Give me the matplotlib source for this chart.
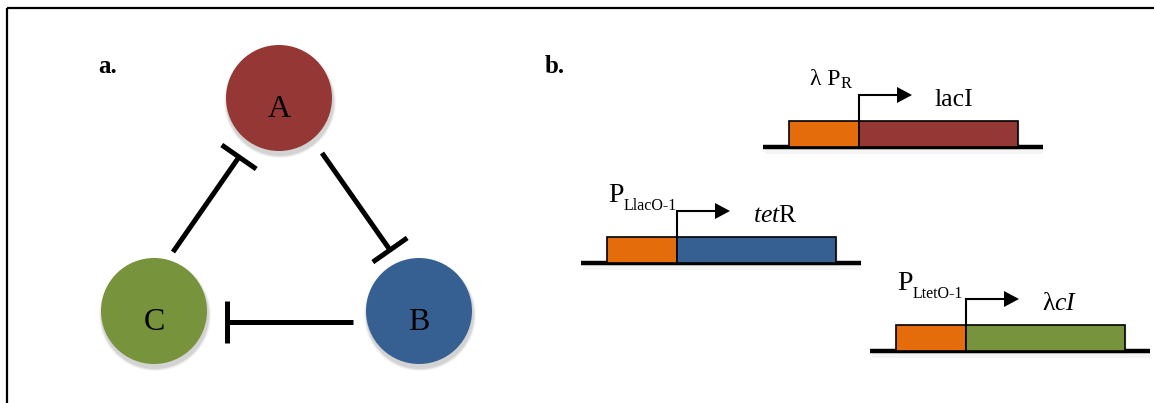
import matplotlib
matplotlib.use('Agg')
import matplotlib.pyplot as plt
from matplotlib.patches import Circle, Rectangle, Polygon

plt.rcParams['mathtext.fontset'] = 'custom'
plt.rcParams['mathtext.rm'] = 'Liberation Serif'
plt.rcParams['mathtext.it'] = 'Liberation Serif:italic'
SERIF = 'Liberation Serif'

# ---------------- data ----------------
# Panel a: repressilator network
node_names = ['A', 'B', 'C']
node_colors = ['#953735', '#376092', '#77933C']
# repression edges (source -> target)
edge_src = ['A', 'B', 'C']
edge_dst = ['B', 'C', 'A']

# Panel b: gene constructs
gene_labels = ['lacI', r'$\it{tet}$R', r'λ$\it{cI}$']
gene_colors = ['#953735', '#376092', '#77933C']
promoter_main = ['λ P', 'P', 'P']
promoter_sub = ['R', 'LlacO-1', 'LtetO-1']
promoter_color = '#E46C0A'

# ---------------- layout ----------------
W, H = 1154, 403
node_pos = {'A': (279, 98), 'B': (419, 311), 'C': (154, 311)}
node_r = 53
edge_geom = {('A', 'B'): ((322, 153), (390, 250)),
             ('B', 'C'): ((353, 322), (227, 322)),
             ('C', 'A'): ((173, 252), (239, 157))}
gene_x0 = [763, 581, 870]
gene_yb = [147, 263, 351]

fig = plt.figure(figsize=(W / 100, H / 100), dpi=100)
ax = fig.add_axes([0, 0, 1, 1])
ax.set_xlim(0, W)
ax.set_ylim(H, 0)
ax.axis('off')
renderer = fig.canvas.get_renderer()

# frame
ax.plot([7, W], [8, 8], color='black', lw=1.6, solid_capstyle='butt')
ax.plot([7, 7], [8, H], color='black', lw=1.6, solid_capstyle='butt')

# panel labels
ax.text(98, 73, 'a.', fontfamily=SERIF, fontweight='bold', fontsize=18,
        ha='left', va='baseline')
ax.text(545, 73, 'b.', fontfamily=SERIF, fontweight='bold', fontsize=18,
        ha='left', va='baseline')

# nodes with soft shadow
for name, col in zip(node_names, node_colors):
    cx, cy = node_pos[name]
    for k, a in [(6, 0.04), (4, 0.06), (2, 0.08)]:
        ax.add_patch(Circle((cx + 1, cy + 4), node_r + k * 0.5, color='black',
                            alpha=a, lw=0, zorder=1))
    ax.add_patch(Circle((cx, cy), node_r, color=col, lw=0, zorder=2))
    ax.text(cx, cy + 19, name, fontfamily=SERIF, fontsize=23, ha='center',
            va='baseline', zorder=3)

# repression edges
lw_px = 5
lw = lw_px * 72 / 100
for s, d in zip(edge_src, edge_dst):
    (x0, y0), (x1, y1) = edge_geom[(s, d)]
    ax.plot([x0, x1], [y0, y1], color='black', lw=lw, solid_capstyle='butt', zorder=3)
    dx, dy = x1 - x0, y1 - y0
    L = (dx ** 2 + dy ** 2) ** 0.5
    px, py = -dy / L, dx / L
    hb = 21
    ax.plot([x1 - px * hb, x1 + px * hb], [y1 - py * hb, y1 + py * hb],
            color='black', lw=lw, solid_capstyle='butt', zorder=3)

# gene constructs
box_h = 26
for i in range(len(gene_labels)):
    x0, yb = gene_x0[i], gene_yb[i]
    xo0, xp, xg1, xb1 = x0 + 26, x0 + 96, x0 + 255, x0 + 280
    # shadows
    ax.add_patch(Rectangle((x0 + 2, yb + 2), 278, 5, color='black', alpha=0.04, lw=0, zorder=1))
    ax.add_patch(Rectangle((xo0 + 2, yb - box_h + 3), xg1 - xo0, box_h, color='black',
                           alpha=0.05, lw=0, zorder=1))
    # backbone
    ax.plot([x0, xb1], [yb, yb], color='black', lw=3.2, solid_capstyle='butt', zorder=2)
    # promoter box and gene box
    ax.add_patch(Rectangle((xo0, yb - box_h), xp - xo0, box_h, facecolor=promoter_color,
                           edgecolor='black', lw=1.2, zorder=3))
    ax.add_patch(Rectangle((xp, yb - box_h), xg1 - xp, box_h, facecolor=gene_colors[i],
                           edgecolor='black', lw=1.2, zorder=3))
    # promoter arrow
    ya = yb - 52
    tip = xp + 53
    ax.plot([xp, xp, tip - 14], [yb - box_h, ya, ya], color='black', lw=1.5,
            solid_joinstyle='miter', zorder=4)
    ax.add_patch(Polygon([(tip - 15, ya - 8), (tip, ya), (tip - 15, ya + 8)],
                         closed=True, color='black', lw=0, zorder=4))
    # promoter labels
    if i == 0:
        t = ax.text(x0 + 47, yb - 62, promoter_main[i], fontfamily=SERIF, fontsize=17,
                    ha='left', va='baseline', zorder=5)
        sub_dy, sub_fs = 3, 12
    else:
        t = ax.text(x0 + 27, yb - 61, promoter_main[i], fontfamily=SERIF, fontsize=20,
                    ha='left', va='baseline', zorder=5)
        sub_dy, sub_fs = 8, 11.5
    bb = t.get_window_extent(renderer=renderer)
    x_end = ax.transData.inverted().transform((bb.x1, bb.y0))[0]
    ax.text(x_end + 0.5, t.get_position()[1] + sub_dy, promoter_sub[i], fontfamily=SERIF,
            fontsize=sub_fs, ha='left', va='baseline', zorder=5)
    # gene label
    ax.text(tip + 23, yb - 41, gene_labels[i], fontfamily=SERIF, fontsize=18.5,
            ha='left', va='baseline', zorder=5)

fig.savefig('out.png', dpi=100, facecolor='white')
